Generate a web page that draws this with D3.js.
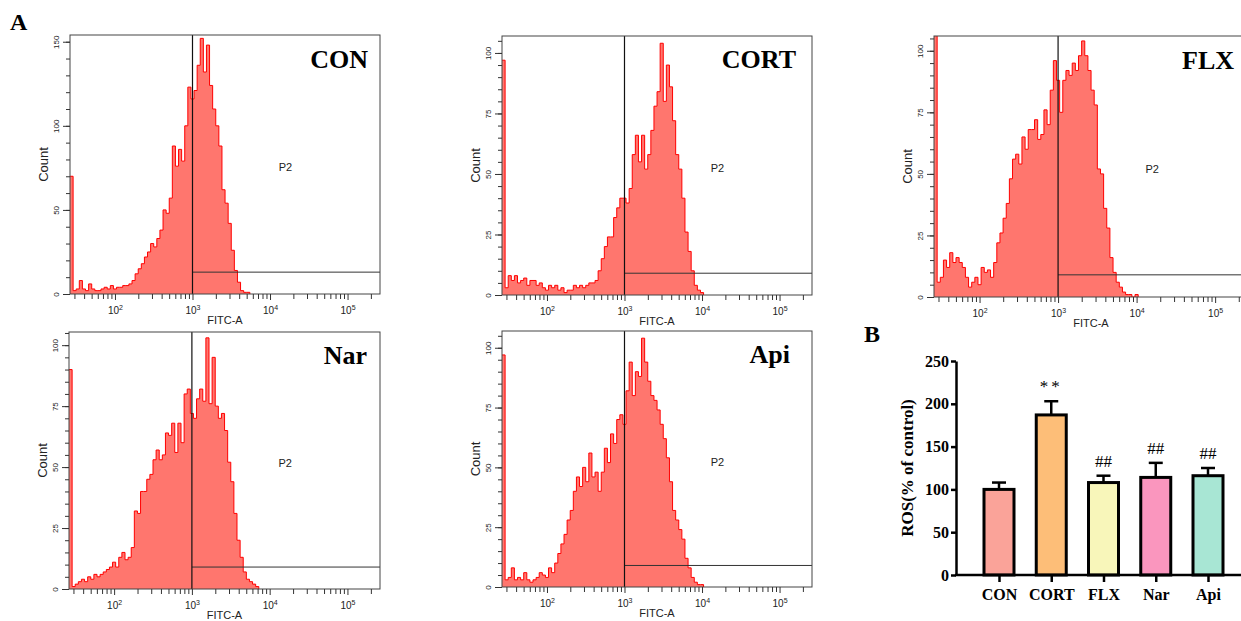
<!DOCTYPE html>
<html>
<head>
<meta charset="utf-8">
<script src="https://cdn.jsdelivr.net/npm/d3@7"></script>
<style>
  body { margin: 0; background: #fff; }
  svg { display: block; }
</style>
</head>
<body>
<svg id="fig" width="1241" height="621"></svg>
<script>
// histogram counts, one value per 0.04-decade bin from FITC-A = 26.3
const conCounts = [70, 2, 3, 8, 3, 2, 6, 3, 2, 2, 3, 4, 3, 5, 3, 4, 4, 5, 5, 6, 8, 12, 15, 18, 22, 25, 30, 28, 33, 38,
  50, 48, 57, 88, 76, 86, 79, 100, 123, 116, 121, 136, 152, 132, 148, 124, 110, 100, 88, 62, 54, 42, 26, 14, 7, 2, 1, 1, 0];
const cortCounts = [97, 3, 8, 6, 8, 5, 6, 7, 4, 6, 6, 4, 5, 3, 2, 4, 3, 4, 2, 3, 1, 2, 2, 4, 3, 4, 3, 4, 5, 5, 6,
  10, 15, 20, 24, 24, 32, 36, 40, 40, 38, 44, 58, 66, 55, 66, 52, 58, 68, 78, 84, 104, 80, 95, 86, 72, 58, 52, 40, 26,
  18, 10, 4, 2, 1, 0];
const flxCounts = [130, 6, 8, 15, 12, 18, 14, 16, 14, 12, 8, 4, 6, 8, 5, 12, 10, 11, 8, 14, 22, 26, 32, 38, 48, 56,
  58, 54, 65, 60, 68, 68, 72, 64, 66, 76, 70, 84, 96, 88, 75, 88, 92, 90, 95, 92, 98, 104, 98, 92, 84, 78, 52, 50, 36,
  28, 16, 10, 6, 4, 2, 1, 1, 0, 1, 0];
const narCounts = [90, 1, 2, 3, 4, 3, 5, 4, 6, 5, 6, 7, 8, 9, 11, 9, 13, 15, 12, 13, 17, 32, 31, 40, 40, 45, 47, 53,
  57, 53, 55, 64, 63, 68, 56, 68, 60, 80, 82, 72, 70, 78, 82, 77, 103, 76, 95, 75, 70, 72, 65, 52, 44, 31, 20, 13, 7,
  4, 3, 2, 1, 0];
const apiCounts = [97, 3, 4, 8, 3, 4, 3, 6, 3, 2, 3, 4, 6, 5, 4, 8, 6, 10, 14, 18, 22, 28, 32, 40, 46, 42, 50, 44, 56,
  46, 48, 40, 48, 58, 52, 64, 60, 70, 72, 68, 82, 94, 80, 90, 88, 104, 94, 86, 80, 78, 74, 68, 62, 54, 44, 32, 28, 24,
  20, 12, 8, 4, 2, 1, 1, 0];

const groups = ["CON", "CORT", "FLX", "Nar", "Api"];
const gateCounts = [13, 9, 9, 9, 9];
const countMax = [154, 107, 106, 105.4, 107];
const countStep = [50, 25, 25, 25, 25];
const fitcMajor = [100, 1000, 10000, 100000];
const fitcExp = ["2", "3", "4", "5"];

// panel B
const rosMean = [100, 187, 108, 114, 116];
const rosSem = [8, 16, 8, 17, 9];
const rosMark = ["", "**", "##", "##", "##"];
const rosTicks = [0, 50, 100, 150, 200, 250];

const fitcMin = 26.3, fitcMax = 262144, binW = 0.04;
const histColor = "#ff766e";
const barColors = ["#faa399", "#fdbe78", "#f8f6ba", "#fa96be", "#a8e6d4"];
const sans = "'Liberation Sans', Arial, sans-serif";
const serif = "'Liberation Serif', 'Times New Roman', serif";

const boxes = [
  {x: 70, y: 35, w: 310, h: 259, tx: 368, ty: 68},
  {x: 502, y: 36, w: 310, h: 259, tx: 796, ty: 68},
  {x: 934, y: 36, w: 314, h: 261, tx: 1234, ty: 69},
  {x: 69, y: 332, w: 311, h: 257, tx: 367, ty: 364},
  {x: 502, y: 331, w: 310, h: 256, tx: 790, ty: 363}
];

const svg = d3.select("#fig");

svg.append("text")
    .attr("x", 10).attr("y", 30)
    .style("font", "bold 24px " + serif)
    .text("A");

const allCounts = [conCounts, cortCounts, flxCounts, narCounts, apiCounts];
allCounts.forEach((counts, k) => drawHist(k, counts));

function drawHist(k, counts) {
  const b = boxes[k];
  const g = svg.append("g");
  const x = d3.scaleLog().domain([fitcMin, fitcMax]).range([b.x, b.x + b.w]);
  const y = d3.scaleLinear().domain([0, countMax[k]]).range([b.y + b.h, b.y]);
  const lo = Math.log10(fitcMin);
  const pts = counts.map((c, i) => ({v: Math.pow(10, lo + i * binW), c: c}));

  const clipId = "clip" + k;
  g.append("clipPath").attr("id", clipId)
    .append("rect").attr("x", b.x).attr("y", b.y).attr("width", b.w).attr("height", b.h);

  const area = d3.area()
      .x(d => x(d.v)).y0(y(0)).y1(d => y(d.c))
      .curve(d3.curveStepAfter);
  const line = d3.line()
      .x(d => x(d.v)).y(d => y(d.c))
      .curve(d3.curveStepAfter);

  const h = g.append("g").attr("clip-path", "url(#" + clipId + ")");
  h.append("path").attr("d", area(pts)).attr("fill", histColor);
  h.append("path").attr("d", line(pts))
      .attr("fill", "none").attr("stroke", "#ff0000").attr("stroke-width", 1);

  // P2 gate
  g.append("line")
      .attr("x1", x(1000)).attr("x2", b.x + b.w)
      .attr("y1", y(gateCounts[k])).attr("y2", y(gateCounts[k]))
      .attr("stroke", "#333").attr("stroke-width", 1);
  g.append("line")
      .attr("x1", x(1000)).attr("x2", x(1000))
      .attr("y1", b.y).attr("y2", b.y + b.h)
      .attr("stroke", "#111").attr("stroke-width", 1.2);

  g.append("rect")
      .attr("x", b.x).attr("y", b.y).attr("width", b.w).attr("height", b.h)
      .attr("fill", "none").attr("stroke", "#444").attr("stroke-width", 1);

  // x axis: minor then major ticks
  const minor = [];
  [10, 100, 1000, 10000, 100000].forEach(d => d3.range(2, 10).forEach(m => {
    if (m * d >= fitcMin && m * d <= fitcMax) minor.push(m * d);
  }));
  const xMinor = g.append("g")
      .attr("transform", "translate(0," + (b.y + b.h) + ")")
      .call(d3.axisBottom(x).tickValues(minor).tickSize(5).tickFormat(""));
  const xMajor = g.append("g")
      .attr("transform", "translate(0," + (b.y + b.h) + ")")
      .call(d3.axisBottom(x).tickValues(fitcMajor).tickSize(6).tickFormat(""));
  [xMinor, xMajor].forEach(a => {
    a.select(".domain").remove();
    a.selectAll("line").attr("stroke", "#333");
  });
  xMajor.selectAll(".tick text")
      .attr("y", 20).attr("dy", null)
      .style("font", "10px " + sans).attr("fill", "#222")
      .each(function(d, i) {
        const t = d3.select(this);
        t.append("tspan").text("10");
        t.append("tspan").attr("dy", -4).style("font-size", "7px").text(fitcExp[i]);
      });

  g.append("text")
      .attr("x", b.x + b.w / 2).attr("y", b.y + b.h + 30)
      .attr("text-anchor", "middle")
      .style("font", "11px " + sans).attr("fill", "#222")
      .text("FITC-A");

  // y axis
  const step = countStep[k];
  const yMinor = d3.range(0, countMax[k], step / 5);
  const yMajor = d3.range(0, countMax[k], step);
  const yMin = g.append("g")
      .attr("transform", "translate(" + b.x + ",0)")
      .call(d3.axisLeft(y).tickValues(yMinor).tickSize(4).tickFormat(""));
  const yMaj = g.append("g")
      .attr("transform", "translate(" + b.x + ",0)")
      .call(d3.axisLeft(y).tickValues(yMajor).tickSize(7).tickFormat(d3.format("d")));
  [yMin, yMaj].forEach(a => {
    a.select(".domain").remove();
    a.selectAll("line").attr("stroke", "#333");
  });
  yMaj.selectAll(".tick text")
      .attr("x", null).attr("dy", null)
      .attr("text-anchor", "middle")
      .attr("transform", "translate(-11.5,0) rotate(-90)")
      .style("font", "8px " + sans).attr("fill", "#222");

  g.append("text")
      .attr("transform", "translate(" + (b.x - 22.5) + "," + (b.y + b.h / 2) + ") rotate(-90)")
      .attr("text-anchor", "middle")
      .style("font", "13px " + sans).attr("fill", "#222")
      .text("Count");

  g.append("text")
      .attr("x", b.x + b.w * 0.695).attr("y", b.y + b.h * 0.51 + 4)
      .attr("text-anchor", "middle")
      .style("font", "11px " + sans).attr("fill", "#222")
      .text("P2");

  g.append("text")
      .attr("x", b.tx).attr("y", b.ty)
      .attr("text-anchor", "end")
      .style("font", "bold 26px " + serif)
      .text(groups[k]);
}

// ---- panel B: bar chart ----
const bx = d3.scalePoint().domain(groups).range([999, 1208]);
const by = d3.scaleLinear().domain([0, 250]).range([575, 361]);
const gb = svg.append("g");

gb.append("text")
    .attr("x", 864).attr("y", 342)
    .style("font", "bold 24px " + serif)
    .text("B");

gb.selectAll(".err")
    .data(groups)
  .enter().append("g")
    .attr("class", "err")
    .each(function(d, i) {
      const e = d3.select(this);
      const cx = bx(d);
      e.append("line")
          .attr("x1", cx).attr("x2", cx)
          .attr("y1", by(rosMean[i])).attr("y2", by(rosMean[i] + rosSem[i]))
          .attr("stroke", "#000").attr("stroke-width", 2.5);
      e.append("line")
          .attr("x1", cx - 7).attr("x2", cx + 7)
          .attr("y1", by(rosMean[i] + rosSem[i])).attr("y2", by(rosMean[i] + rosSem[i]))
          .attr("stroke", "#000").attr("stroke-width", 2.5);
    });

gb.selectAll(".bar")
    .data(groups)
  .enter().append("rect")
    .attr("class", "bar")
    .attr("x", d => bx(d) - 15)
    .attr("width", 30)
    .attr("y", (d, i) => by(rosMean[i]))
    .attr("height", (d, i) => by(0) - by(rosMean[i]))
    .attr("fill", (d, i) => barColors[i])
    .attr("stroke", "#000").attr("stroke-width", 3);

gb.selectAll(".mark")
    .data(groups)
  .enter().append("text")
    .attr("class", "mark")
    .attr("x", d => bx(d))
    .attr("y", (d, i) => by(rosMean[i] + rosSem[i]) - 9)
    .attr("text-anchor", "middle")
    .style("font", "17px " + serif)
    .style("letter-spacing", (d, i) => rosMark[i] === "**" ? "3px" : "0px")
    .text((d, i) => rosMark[i]);

const yAx = gb.append("g")
    .attr("transform", "translate(956,0)")
    .call(d3.axisLeft(by).tickValues(rosTicks).tickSize(5).tickSizeOuter(0).tickPadding(2));
yAx.select(".domain").attr("stroke-width", 2.5);
yAx.selectAll("line").attr("stroke-width", 2.5);
yAx.selectAll("text").style("font", "bold 16px " + serif).attr("fill", "#000");

gb.append("line")
    .attr("x1", 955).attr("x2", 1241)
    .attr("y1", by(0)).attr("y2", by(0))
    .attr("stroke", "#000").attr("stroke-width", 2.5);

const xAx = gb.append("g")
    .attr("transform", "translate(0," + by(0) + ")")
    .call(d3.axisBottom(bx).tickSize(7).tickPadding(7));
xAx.select(".domain").remove();
xAx.selectAll("line").attr("stroke-width", 2.5);
xAx.selectAll("text").style("font", "bold 16px " + serif).attr("fill", "#000");

gb.append("text")
    .attr("transform", "translate(913,468) rotate(-90)")
    .attr("text-anchor", "middle")
    .style("font", "bold 17px " + serif)
    .text("ROS(% of control)");
</script>
</body>
</html>
